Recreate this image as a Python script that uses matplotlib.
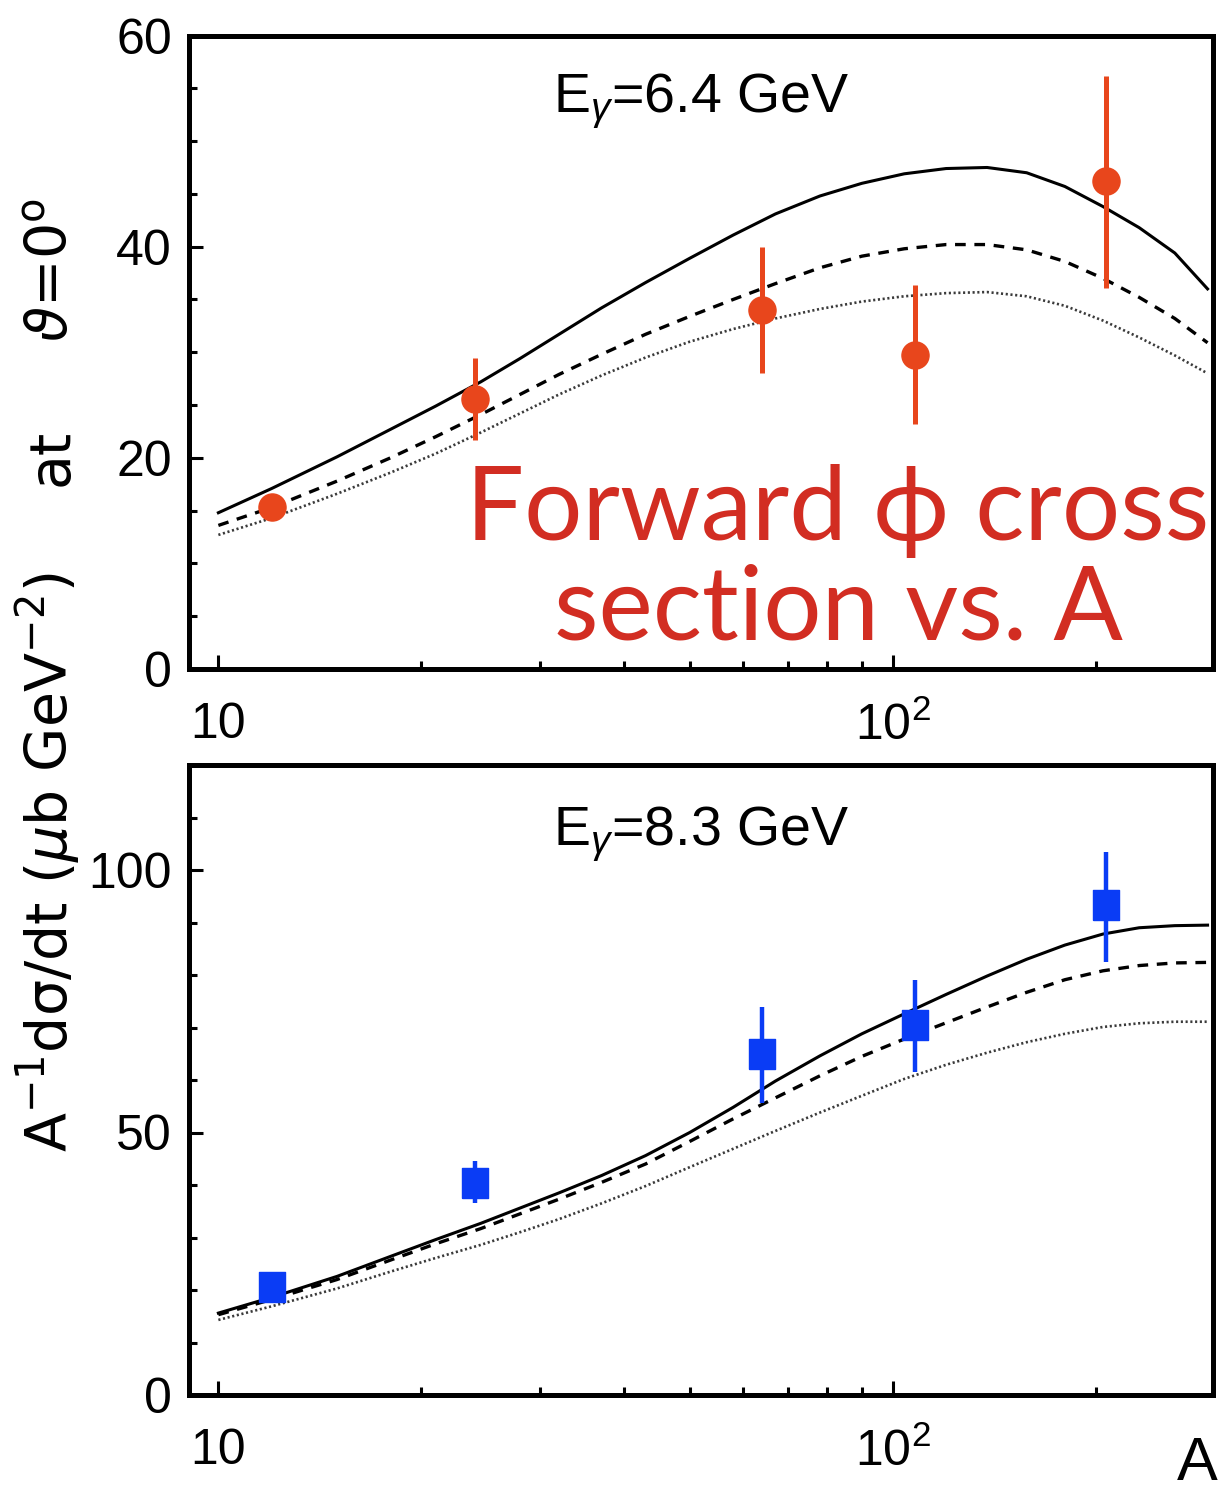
import matplotlib

matplotlib.use("Agg")
import matplotlib.pyplot as plt
from matplotlib.ticker import FixedLocator, NullFormatter, MultipleLocator

SANS = "Liberation Sans"
plt.rcParams["font.family"] = [SANS, "DejaVu Sans"]
plt.rcParams["mathtext.fontset"] = "custom"
plt.rcParams["mathtext.rm"] = SANS
plt.rcParams["mathtext.it"] = SANS + ":italic"
plt.rcParams["mathtext.sf"] = SANS

# measured targets (mass number A)
targets_A = [12, 24, 64, 108, 207]

# E_gamma = 6.4 GeV: central values and error-bar ends
sig64 = [15.3, 25.6, 34.0, 29.7, 46.2]
sig64_lo = [14.8, 21.7, 28.0, 23.2, 36.1]
sig64_hi = [15.8, 29.5, 40.0, 36.4, 56.2]

# E_gamma = 8.3 GeV
sig83 = [20.6, 40.3, 64.9, 70.5, 93.4]
sig83_lo = [20.1, 36.5, 55.6, 61.5, 82.4]
sig83_hi = [21.1, 44.5, 73.9, 79.0, 103.5]

# model curves (solid / dashed / dotted)
model_A = [10, 12, 15, 18, 21, 24.5, 28, 32, 37, 43, 50, 58, 67, 78, 90, 104,
           120, 138, 158, 180, 205, 232, 262, 293]
m64_full = [14.8, 17.1, 20.1, 22.7, 24.9, 27.2, 29.4, 31.7, 34.2, 36.6, 38.9, 41.1,
            43.1, 44.8, 46.0, 46.9, 47.4, 47.5, 47.0, 45.7, 43.8, 41.8, 39.4, 36.0]
m64_dash = [13.6, 15.3, 17.8, 20.0, 22.0, 24.1, 26.0, 27.9, 29.8, 31.7, 33.4, 35.0,
            36.5, 38.0, 39.1, 39.8, 40.2, 40.2, 39.7, 38.6, 37.0, 35.2, 33.2, 30.9]
m64_dot = [12.7, 14.3, 16.6, 18.6, 20.4, 22.4, 24.2, 26.0, 27.8, 29.5, 31.0, 32.2,
           33.2, 34.1, 34.8, 35.3, 35.6, 35.7, 35.3, 34.4, 33.0, 31.4, 29.7, 28.0]
m83_full = [15.6, 18.6, 22.6, 26.4, 29.6, 32.7, 35.6, 38.5, 41.8, 45.6, 50.0, 54.8,
            59.8, 64.6, 68.8, 72.6, 76.3, 79.8, 83.0, 85.7, 87.8, 89.0, 89.4, 89.5]
m83_dash = [15.3, 18.2, 22.0, 25.7, 28.8, 31.7, 34.5, 37.3, 40.5, 44.0, 48.3, 52.6,
            56.6, 60.8, 64.5, 67.8, 70.9, 73.9, 76.7, 79.1, 80.8, 81.8, 82.3, 82.4]
m83_dot = [14.3, 16.9, 20.3, 23.5, 26.1, 28.6, 31.0, 33.5, 36.5, 39.8, 43.4, 46.9,
           50.3, 53.8, 57.0, 60.2, 62.9, 65.2, 67.2, 68.8, 70.1, 70.8, 71.1, 71.1]

RED = "#e8461c"
BLUE = "#0a3cf5"
TEXT_RED = "#d22d22"

W, H = 1219, 1495
fig = plt.figure(figsize=(W / 100, H / 100), dpi=100)

ax_top = fig.add_axes([188.5 / W, 1 - 669 / H, (1213 - 188.5) / W, (669 - 35.5) / H])
ax_bot = fig.add_axes([188.5 / W, 1 - 1395 / H, (1213 - 188.5) / W, (1395 - 765) / H])


def style_axes(ax, ymax, ymajor, yminor):
    ax.set_xscale("log")
    ax.set_xlim(9.03, 298.5)
    ax.set_ylim(0, ymax)
    ax.xaxis.set_major_locator(FixedLocator([10, 100]))
    ax.xaxis.set_minor_locator(FixedLocator([20, 30, 40, 50, 60, 70, 80, 90, 200]))
    ax.xaxis.set_minor_formatter(NullFormatter())
    ax.set_xticklabels(["10", r"10$^{2}$"])
    ax.yaxis.set_major_locator(MultipleLocator(ymajor))
    ax.yaxis.set_minor_locator(MultipleLocator(yminor))
    ax.tick_params(which="both", direction="in", top=False, right=False,
                   width=2.2, labelsize=36, color="black")
    ax.tick_params(which="major", length=10)
    ax.tick_params(which="minor", length=5.5)
    ax.tick_params(axis="y", pad=12)
    ax.tick_params(axis="x", pad=24)
    for sp in ax.spines.values():
        sp.set_linewidth(3.6)


def draw_models(ax, full, dash, dot):
    ax.plot(model_A, full, color="black", lw=2.2, ls="-")
    ax.plot(model_A, dash, color="black", lw=2.4, ls=(0, (3.2, 2.6)))
    ax.plot(model_A, dot, color="#3a3a3a", lw=1.9, ls=(0, (0.8, 1.0)))


style_axes(ax_top, 60, 20, 5)
draw_models(ax_top, m64_full, m64_dash, m64_dot)
err_lo = [v - lo for v, lo in zip(sig64, sig64_lo)]
err_hi = [hi - v for v, hi in zip(sig64, sig64_hi)]
ax_top.errorbar(targets_A, sig64, yerr=[err_lo, err_hi], fmt="o", ms=19.5,
                color=RED, mec=RED, elinewidth=3.6, capsize=0, zorder=5)

style_axes(ax_bot, 120, 50, 10)
draw_models(ax_bot, m83_full, m83_dash, m83_dot)
err_lo = [v - lo for v, lo in zip(sig83, sig83_lo)]
err_hi = [hi - v for v, hi in zip(sig83, sig83_hi)]
rect = [(-0.435, -0.5), (0.435, -0.5), (0.435, 0.5), (-0.435, 0.5), (-0.435, -0.5)]
ax_bot.errorbar(targets_A, sig83, yerr=[err_lo, err_hi], fmt="none",
                ecolor=BLUE, elinewidth=3.2, capsize=0, zorder=5)
ax_bot.plot(targets_A, sig83, ls="none", marker=rect, ms=22.3,
            color=BLUE, mec=BLUE, zorder=6)

# beam-energy labels
fig.text(701 / W, 1 - 112 / H, r"E$_{\gamma}$=6.4 GeV", fontsize=40,
         ha="center", va="baseline")
fig.text(701 / W, 1 - 845 / H, r"E$_{\gamma}$=8.3 GeV", fontsize=40,
         ha="center", va="baseline")

# shared y label, set in three spaced pieces along the left edge
ylab = dict(fontsize=41, rotation=90, rotation_mode="anchor", ha="center",
            va="baseline", family=["DejaVu Sans"], math_fontfamily="dejavusans")
fig.text(68 / W, 1 - 862 / H,
         r"A$^{-1}$d$\mathrm{\sigma}$/dt ($\mu$b GeV$^{-2}$)", **ylab)
fig.text(68 / W, 1 - 457 / H, "at", **ylab)
fig.text(68 / W, 1 - 270 / H, r"$\vartheta$=0$^{\rm o}$", **ylab)

fig.text(1197 / W, 2 / H, "A", fontsize=44, ha="center", va="bottom")

# headline annotation
big = dict(fontsize=74, color=TEXT_RED, ha="center", va="baseline",
           family=["Lato", "DejaVu Sans"])
fig.text(838 / W, 1 - 540 / H, "Forward \u03d5 cross", **big)
fig.text(838 / W, 1 - 640 / H, "section vs. A", **big)

fig.savefig("out.png", dpi=100)
